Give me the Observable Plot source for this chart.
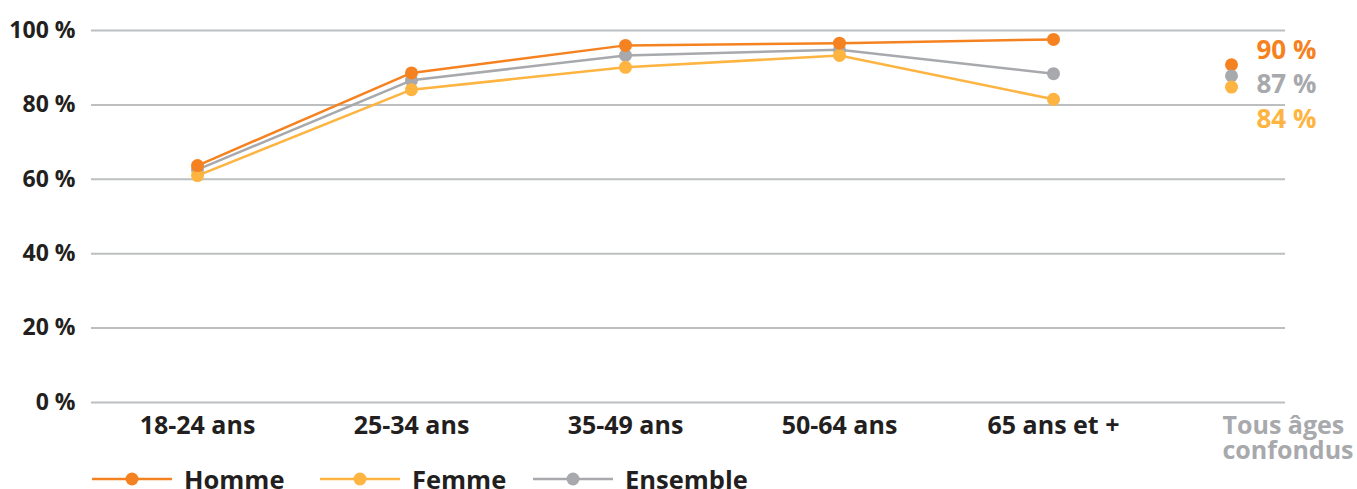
<!DOCTYPE html>
<html><head><meta charset="utf-8">
<script src="https://cdn.jsdelivr.net/npm/d3@7"></script>
<script src="https://cdn.jsdelivr.net/npm/@observablehq/plot@0.6"></script>
<style>
body{margin:0;background:#fff;font-family:"Open Sans",sans-serif;overflow:hidden;}
#chart svg{display:block;}
#legend{height:23px;position:relative;}
.item{position:absolute;top:3px;height:20px;display:flex;align-items:center;}
.item span{font-weight:700;font-size:25.5px;line-height:20px;color:#231f20;margin-left:12px;}
</style></head>
<body><div id="chart"></div><div id="legend"></div>
<script>
const categories = ["18-24 ans","25-34 ans","35-49 ans","50-64 ans","65 ans et +"];
const allAges = "Tous âges confondus";
const series = ["Homme","Femme","Ensemble"];
const colors = ["#F58220","#FDB441","#A7A9AC"];
const homme = [63.7, 88.6, 96.0, 96.6, 97.6];
const femme = [61.0, 84.1, 90.1, 93.3, 81.5];
const ensemble = [62.6, 86.6, 93.3, 94.8, 88.4];
const totals = [90.8, 84.8, 87.8]; // Homme, Femme, Ensemble
const totalLabels = ["90 %","84 %","87 %"];
const yTicks = [0,20,40,60,80,100];

const vals = {Homme: homme, Femme: femme, Ensemble: ensemble};
const drawOrder = ["Ensemble","Femme","Homme"];
const rows = drawOrder.flatMap(s => categories.map((c,i)=>({serie:s, cat:c, v:vals[s][i]})));
const tot = series.map((s,i)=>({serie:s, cat:allAges, v:totals[i], label:totalLabels[i]}));
const totOrder = ["Homme","Ensemble","Femme"].map(s=>tot.find(d=>d.serie===s));
const labelDy = {Homme:-14, Ensemble:9, Femme:33};
const colorOf = s => colors[series.indexOf(s)];

const chart = Plot.plot({
  width:1357, height:466,
  marginLeft:91, marginRight:72, marginTop:30, marginBottom:64,
  style:{fontFamily:"Open Sans", background:"#fff"},
  x:{type:"point", domain:[...categories, allAges], padding:0, insetLeft:104, insetRight:16, axis:null},
  y:{domain:[0,100], axis:null},
  marks:[
    Plot.ruleY(yTicks, {stroke:"#BCBEC0", strokeWidth:2}),
    Plot.text(yTicks, {y:d=>d, text:d=>d+" %", frameAnchor:"left", textAnchor:"end", dx:-16,
      fontSize:23, fontWeight:700, fill:"#231f20"}),
    ...drawOrder.map(s => Plot.line(rows.filter(d=>d.serie===s), {x:"cat", y:"v", stroke:colorOf(s), strokeWidth:2.5})),
    ...drawOrder.map(s => Plot.dot(rows.filter(d=>d.serie===s), {x:"cat", y:"v", fill:colorOf(s), r:6.5})),
    ...totOrder.map(d => Plot.dot([d], {x:"cat", y:"v", fill:colorOf(d.serie), r:6.5, dx:-36})),
    ...totOrder.map(d => Plot.text([d], {x:"cat", y:"v", text:"label", fill:colorOf(d.serie), textAnchor:"start",
      dx:-11, dy:labelDy[d.serie], fontSize:26, fontWeight:700})),
    Plot.text(categories, {x:d=>d, y:()=>0, text:d=>d, dy:23, fontSize:25, fontWeight:700, fill:"#231f20", lineAnchor:"middle"}),
    Plot.text([allAges], {x:d=>d, y:()=>0, text:()=>"Tous âges\nconfondus", textAnchor:"start", dx:-45, dy:36,
      fontSize:25, fontWeight:700, fill:"#A7A9AC", lineHeight:0.98, lineAnchor:"middle"})
  ]
});
document.getElementById("chart").append(chart);

const legendPos = [92, 320, 533];
const leg = document.getElementById("legend");
series.forEach((s,i)=>{
  const div = document.createElement("div");
  div.className="item"; div.style.left = legendPos[i]+"px";
  div.innerHTML = `<svg width="80" height="20" style="display:block"><line x1="0" x2="80" y1="10" y2="10" stroke="${colors[i]}" stroke-width="2.5"/><circle cx="40" cy="10" r="6.5" fill="${colors[i]}"/></svg><span>${s}</span>`;
  leg.append(div);
});
</script></body></html>
